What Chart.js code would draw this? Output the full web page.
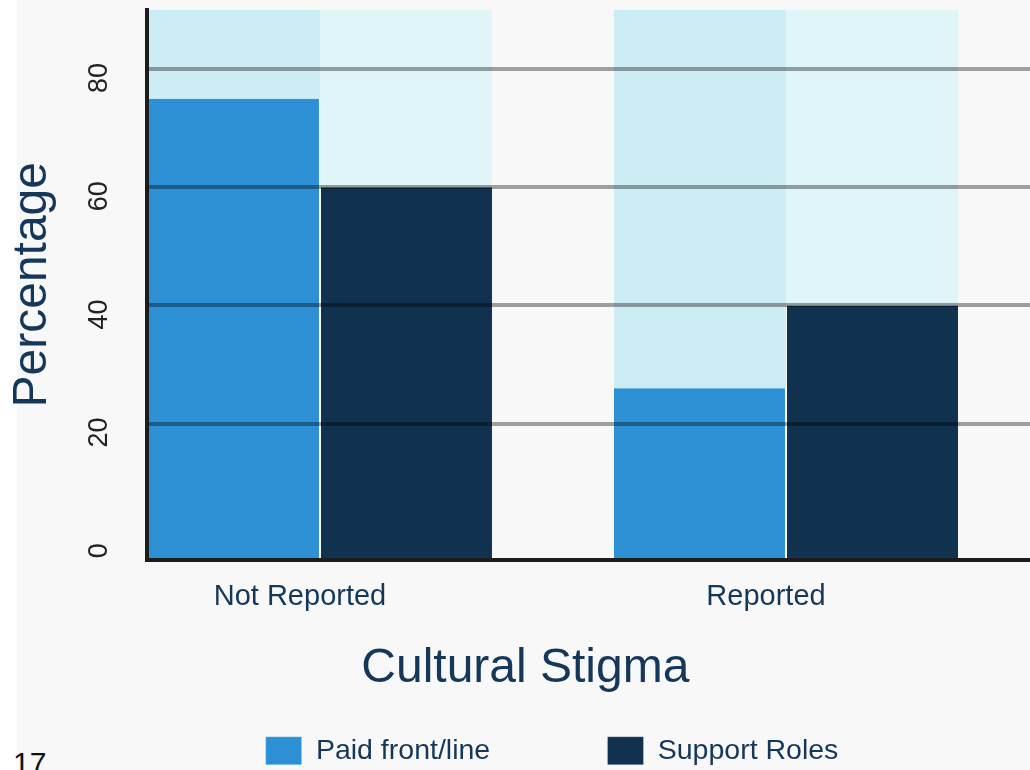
<!DOCTYPE html>
<html>
<head>
<meta charset="utf-8">
<script src="https://cdn.jsdelivr.net/npm/chart.js@4.4.1/dist/chart.umd.min.js"></script>
<style>
  html, body { margin: 0; padding: 0; width: 1030px; height: 770px; overflow: hidden; background: #ffffff; font-family: "Liberation Sans", Arial, sans-serif; }
  #slide { position: absolute; left: 17px; top: 0; width: 1013px; height: 770px; background: #f8f8f8; }
  #wrap { position: absolute; left: 0; top: -50px; }
  #pg { position: absolute; left: 13px; top: 748px; font-size: 30px; line-height: 30px; color: #111111; }
</style>
</head>
<body>
<div id="slide"></div>
<div id="pg">17</div>
<div id="wrap"><canvas id="c" width="1104" height="825"></canvas></div>
<script>
// ---- data ----
const categories = ['Not Reported', 'Reported'];
const seriesNames = ['Paid front/line', 'Support Roles'];
const paidFrontLine = [75, 26];
const supportRoles = [60, 40];
const paidShade = [89.5, 90];
const supportShade = [89.3, 90];
const yTicks = [0, 20, 40, 60, 80];

const NAVY = '#14375a';
const FONT = '"Liberation Sans", Arial, sans-serif';
Chart.defaults.font.family = FONT;

const pts = (arr) => arr.map((v, i) => ({ x: i, y: v }));

new Chart(document.getElementById('c'), {
  type: 'bar',
  data: {
    datasets: [
      { label: seriesNames[0], data: pts(paidFrontLine), stack: 'p', base: -3,
        backgroundColor: '#2d90d5', borderColor: '#ffffff',
        borderWidth: { top: 0, right: 1, bottom: 0, left: 0 } },
      { label: seriesNames[1], data: pts(supportRoles), stack: 's', base: -3,
        backgroundColor: '#11324f', borderColor: '#ffffff',
        borderWidth: { top: 0, right: 0, bottom: 0, left: 1 } },
      { label: 'shade-p', data: pts(paidShade), stack: 'p', base: -3,
        backgroundColor: '#cdedf4', borderWidth: 0 },
      { label: 'shade-s', data: pts(supportShade), stack: 's', base: -3,
        backgroundColor: '#dff5f7', borderWidth: 0 }
    ]
  },
  options: {
    responsive: false,
    animation: false,
    devicePixelRatio: 1,
    categoryPercentage: 0.7382,
    barPercentage: 1,
    layout: { padding: { top: 60, left: 0, right: 0, bottom: 0 } },
    plugins: {
      tooltip: { enabled: false },
      legend: {
        position: 'bottom',
        labels: {
          boxWidth: 36, boxHeight: 28, padding: 117.3,
          color: NAVY, font: { size: 28.5 },
          filter: (item) => item.datasetIndex < 2
        }
      },
      title: {
        display: true,
        position: 'bottom',
        weight: 500,
        text: 'Cultural Stigma\u00a0\u00a0\u00a0\u00a0',
        color: NAVY,
        font: { size: 48, weight: 'normal' },
        padding: { top: 28.7, bottom: -78.6 }
      }
    },
    scales: {
      x: {
        type: 'linear',
        offset: false,
        min: -0.3712,
        max: 1.6824,
        afterBuildTicks: (s) => { s.ticks = categories.map((c, i) => ({ value: i })); },
        grid: { display: false, offset: false, drawTicks: true, tickLength: 23 },
        border: { display: true, color: '#1c1c1c', width: 4, z: 2 },
        ticks: {
          callback: (v) => categories[v],
          autoSkip: false, maxRotation: 0, minRotation: 0,
          padding: 0, labelOffset: -20,
          color: NAVY, font: { size: 29, lineHeight: 1 }
        }
      },
      y: {
        min: -3,
        max: 90,
        afterBuildTicks: (s) => { s.ticks = yTicks.map((v) => ({ value: v })); },
        grid: {
          z: 1,
          lineWidth: 4,
          drawTicks: true,
          tickLength: 32.5,
          tickColor: 'rgba(0,0,0,0)',
          color: (c) => (c.tick && c.tick.value === 0) ? 'rgba(0,0,0,0)' : 'rgba(0,0,0,0.36)'
        },
        border: { display: true, color: '#1c1c1c', width: 4, z: 2 },
        ticks: {
          minRotation: 90, maxRotation: 90,
          crossAlign: 'center',
          labelOffset: 9,
          padding: 0,
          color: '#222222',
          font: { size: 27 }
        },
        title: {
          display: true,
          text: 'Percentage',
          color: NAVY,
          font: { size: 48 },
          padding: { top: 3.7, bottom: 20.8 }
        }
      }
    }
  }
});
</script>
</body>
</html>
